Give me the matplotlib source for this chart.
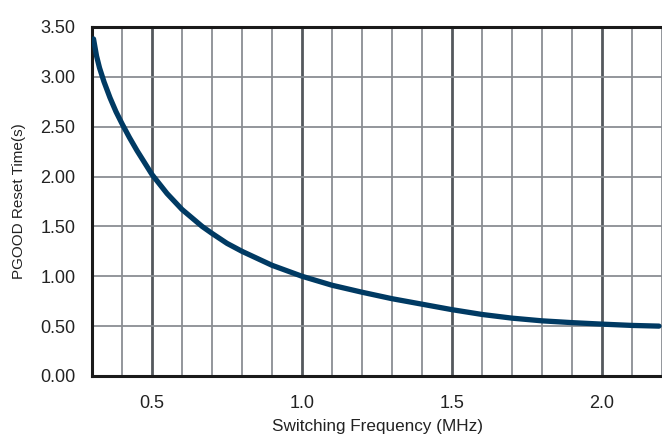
import matplotlib
matplotlib.use('Agg')
import matplotlib.pyplot as plt
from matplotlib.ticker import MultipleLocator

plt.rcParams['font.family'] = ['Liberation Sans', 'DejaVu Sans']

# values
freq_mhz = [0.305, 0.315, 0.325, 0.34, 0.36, 0.38, 0.40, 0.425, 0.45, 0.475, 0.50,
            0.55, 0.60, 0.667, 0.70, 0.75, 0.80, 0.90, 1.00, 1.10, 1.20, 1.30,
            1.40, 1.50, 1.60, 1.70, 1.80, 1.90, 2.00, 2.10, 2.19]
reset_time = [3.38, 3.21, 3.09, 2.95, 2.79, 2.65, 2.53, 2.39, 2.26, 2.14, 2.02,
              1.83, 1.67, 1.50, 1.43, 1.33, 1.25, 1.11, 1.00, 0.91, 0.84, 0.775,
              0.72, 0.665, 0.617, 0.58, 0.553, 0.535, 0.52, 0.507, 0.50]

x_ticks = [0.5, 1.0, 1.5, 2.0]
y_ticks = [0.0, 0.5, 1.0, 1.5, 2.0, 2.5, 3.0, 3.5]

fig = plt.figure(figsize=(6.62, 4.38), dpi=100)
ax = fig.add_axes([0.139, 0.1416, 0.861, 0.7968])

ax.set_xlim(0.3, 2.2)
ax.set_ylim(0, 3.5)

ax.xaxis.set_minor_locator(MultipleLocator(0.1))
ax.set_xticks(x_ticks)
ax.set_xticklabels(['%.1f' % v for v in x_ticks])
ax.set_yticks(y_ticks)
ax.set_yticklabels(['%.2f' % v for v in y_ticks])

ax.grid(which='minor', axis='x', color='#8a8e93', linewidth=1.3)
ax.grid(which='major', axis='x', color='#54585d', linewidth=2.0)
ax.grid(which='major', axis='y', color='#8a8e93', linewidth=1.3)
ax.set_axisbelow(True)

ax.plot(freq_mhz, reset_time, color='#003a63', linewidth=3.8,
        solid_capstyle='round', solid_joinstyle='round', zorder=3)

for side in ['left', 'bottom', 'top']:
    ax.spines[side].set_linewidth(2.2)
    ax.spines[side].set_color('#1a1a1a')
ax.spines['right'].set_visible(False)

ax.tick_params(which='both', length=0, labelsize=13, colors='#222222')
ax.tick_params(axis='y', pad=12)
ax.tick_params(axis='x', pad=14)

ax.set_xlabel('Switching Frequency (MHz)', fontsize=12.3, color='#222222', labelpad=5)
ax.set_ylabel('PGOOD Reset Time(s)', fontsize=11, color='#222222', labelpad=10)

fig.savefig('out.png', dpi=100)
